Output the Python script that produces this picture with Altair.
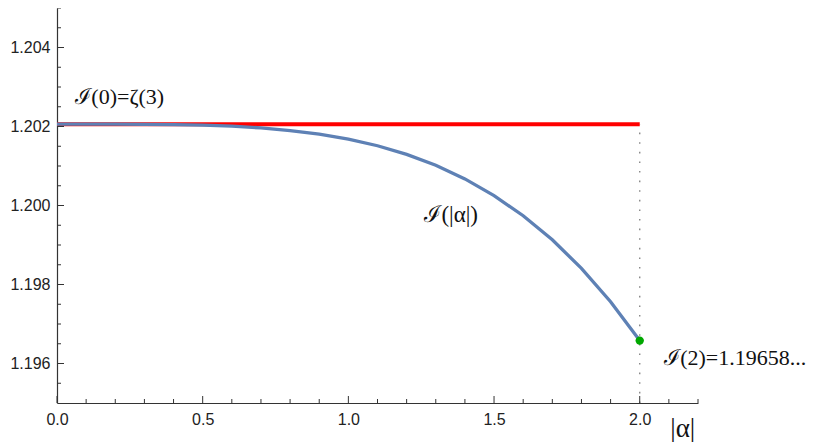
import altair as alt
import pandas as pd

# ---- data ----
alpha = [0.0, 0.1, 0.2, 0.3, 0.4, 0.5, 0.6, 0.7, 0.8, 0.9, 1.0,
         1.1, 1.2, 1.3, 1.4, 1.5, 1.6, 1.7, 1.8, 1.9, 2.0]
I_vals = [1.20206, 1.20206, 1.20206, 1.202056, 1.202049, 1.202034, 1.202007,
          1.201964, 1.201898, 1.201807, 1.201680, 1.201513, 1.201293, 1.201017,
          1.200673, 1.200250, 1.199741, 1.199131, 1.198409, 1.197564, 1.19658]
zeta3 = 1.2020569
end_alpha = 2.0
end_val = 1.19658

x_major = [0.0, 0.5, 1.0, 1.5, 2.0]
x_minor = [0.1, 0.2, 0.3, 0.4, 0.6, 0.7, 0.8, 0.9, 1.1, 1.2, 1.3, 1.4,
           1.6, 1.7, 1.8, 1.9, 2.1, 2.2]
y_major = [1.196, 1.198, 1.200, 1.202, 1.204]
y_minor = [1.1955, 1.1965, 1.197, 1.1975, 1.1985, 1.199, 1.1995, 1.2005,
           1.201, 1.2015, 1.2025, 1.203, 1.2035, 1.2045, 1.205]

labels = ["ℐ(0)=ζ(3)", "ℐ(|α|)", "ℐ(2)=1.19658...", "|α|"]
label_x = [0.063, 1.261, 2.084, 2.105]
label_y = [1.20274, 1.19975, 1.19613, 1.19433]
label_size = [22, 23, 22, 27]

X_DOM = [0, 2.2]
Y_DOM = [1.195, 1.205]
W, H = 641, 395

x_axis = alt.Axis(values=x_major, format=".1f", ticks=False, grid=False,
                  title=None, domainColor="#333", domainWidth=1.2,
                  labelFont="Liberation Sans", labelFontSize=16,
                  labelColor="#222", labelPadding=8, labelFlush=False)
y_axis = alt.Axis(values=y_major, format=".3f", ticks=False, grid=False,
                  title=None, domainColor="#333", domainWidth=1.2,
                  labelFont="Liberation Sans", labelFontSize=16,
                  labelColor="#222", labelPadding=7, labelFlush=False)

def X(field):
    return alt.X(field, type="quantitative",
                 scale=alt.Scale(domain=X_DOM, nice=False, zero=False),
                 axis=x_axis)

def Y(field):
    return alt.Y(field, type="quantitative",
                 scale=alt.Scale(domain=Y_DOM, nice=False, zero=False),
                 axis=y_axis)

curve_df = pd.DataFrame({"a": alpha, "v": I_vals})
red_df = pd.DataFrame({"a": [0.0, end_alpha], "v": [zeta3, zeta3]})
dot_df = pd.DataFrame({"a": [end_alpha], "v": [end_val]})
vline_df = pd.DataFrame({"a": [end_alpha], "v": [Y_DOM[0]], "v2": [zeta3]})
txt_df = pd.DataFrame({"a": label_x, "v": label_y, "t": labels, "s": label_size})
xmaj_df = pd.DataFrame({"a": x_major})
xmin_df = pd.DataFrame({"a": x_minor})
ymaj_df = pd.DataFrame({"v": y_major})
ymin_df = pd.DataFrame({"v": y_minor})

red = alt.Chart(red_df).mark_line(color="#FF0000", strokeWidth=4).encode(
    x=X("a:Q"), y=Y("v:Q"))

vline = alt.Chart(vline_df).mark_rule(color="#888888", strokeWidth=1.4,
                                      strokeDash=[1.6, 8]).encode(
    x=X("a:Q"), y=Y("v:Q"), y2="v2:Q")

curve = alt.Chart(curve_df).mark_line(color="#5E81B5", strokeWidth=3.3).encode(
    x=X("a:Q"), y=Y("v:Q"))

point = alt.Chart(dot_df).mark_circle(color="#00A800", size=70, opacity=1).encode(
    x=X("a:Q"), y=Y("v:Q"))

text = alt.Chart(txt_df).mark_text(align="left", baseline="middle",
                                   font="Liberation Serif, DejaVu Serif, serif",
                                   color="#111").encode(
    x=X("a:Q"), y=Y("v:Q"), text="t:N",
    size=alt.Size("s:Q", scale=None, legend=None))

xmaj = alt.Chart(xmaj_df).mark_rule(color="#333", strokeWidth=1).encode(
    x=X("a:Q"), y=alt.value(H), y2=alt.value(H - 7))
xmin = alt.Chart(xmin_df).mark_rule(color="#333", strokeWidth=1).encode(
    x=X("a:Q"), y=alt.value(H), y2=alt.value(H - 4))
ymaj = alt.Chart(ymaj_df).mark_rule(color="#333", strokeWidth=1).encode(
    y=Y("v:Q"), x=alt.value(0), x2=alt.value(7))
ymin = alt.Chart(ymin_df).mark_rule(color="#333", strokeWidth=1).encode(
    y=Y("v:Q"), x=alt.value(0), x2=alt.value(4))

chart = alt.layer(vline, red, curve, point, text,
                  xmaj, xmin, ymaj, ymin).properties(
    width=W, height=H,
    autosize=alt.AutoSizeParams(type="none"),
    padding={"left": 49, "top": 0, "right": 113, "bottom": 39},
).configure_view(stroke=None)

chart.save("out.html", embed_options={"renderer": "svg", "actions": False})
